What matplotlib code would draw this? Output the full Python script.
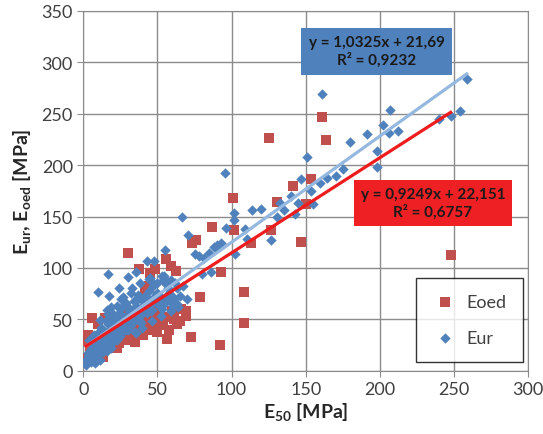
import matplotlib
matplotlib.use('Agg')
import matplotlib.pyplot as plt
import numpy as np

plt.rcParams['font.family'] = ['Lato', 'DejaVu Sans']
plt.rcParams['mathtext.fontset'] = 'custom'
plt.rcParams['mathtext.rm'] = 'Lato'
plt.rcParams['mathtext.it'] = 'Lato:italic'
plt.rcParams['mathtext.bf'] = 'Lato:bold'

# Eoed (red squares): E50, Eoed [MPa]
oed_x = [160.9, 125.3, 163.9, 141.2, 153.8, 101.2, 130.5, 150.3, 87.0, 101.5,
         126.5, 146.8, 113.2, 73.2, 76.2, 247.8, 29.9, 37.8, 55.6, 58.9,
         62.7, 48.6, 45.1, 93.1, 108.3, 78.6, 69.0, 69.0, 108.3, 53.8,
         53.3, 48.4, 44.0, 39.2, 56.3, 72.7, 92.4, 34.6, 24.1, 6.1,
         2.3, 13.6, 1.9, 14.7, 27.6, 22.9, 41.6, 44.0, 26.4, 18.2,
         9.0, 6.5, 33.0, 36.5, 50.5, 20.5, 12.0, 30.5, 42.5, 4.5,
         5.0, 8.0, 11.0, 15.0, 17.0, 20.0, 23.0, 26.0, 29.0, 32.0,
         35.0, 38.0, 40.0, 43.0, 47.0, 50.0, 52.0, 55.0, 60.0, 63.0,
         66.0, 3.0, 10.0, 28.0, 45.0,
         4.0, 7.0, 9.0, 13.0, 16.0, 19.0, 22.0, 25.0, 31.0, 36.0,
         41.0, 46.0, 49.0, 54.0, 58.0, 61.0, 65.0]
oed_y = [246.6, 226.4, 224.5, 179.9, 186.4, 168.5, 164.3, 162.0, 139.9, 136.6,
         137.0, 125.6, 124.6, 124.6, 127.2, 112.2, 114.8, 99.2, 109.0, 101.8,
         96.9, 99.2, 95.3, 96.0, 76.8, 71.9, 57.9, 53.0, 46.5, 49.8,
         44.9, 40.0, 41.6, 40.0, 30.9, 32.5, 24.7, 33.5, 27.0, 51.4,
         28.6, 13.0, 12.4, 51.4, 56.3, 33.5, 79.0, 82.0, 45.0, 37.0,
         24.0, 17.0, 38.0, 44.0, 58.0, 30.0, 22.0, 34.0, 50.0, 19.0,
         20.0, 28.0, 18.0, 35.0, 25.0, 42.0, 22.0, 55.0, 30.0, 48.0,
         28.0, 55.0, 35.0, 60.0, 45.0, 38.0, 62.0, 52.0, 58.0, 45.0,
         60.0, 35.0, 45.0, 40.0, 52.0,
         10.0, 22.0, 30.0, 20.0, 28.0, 34.0, 26.0, 40.0, 32.0, 36.0,
         46.0, 40.0, 54.0, 46.0, 40.0, 50.0, 48.0]

# Eur (blue diamonds): E50, Eur [MPa]
ur_x = [258.6, 160.9, 206.9, 254.4, 247.8, 239.9, 202.5, 212.3, 206.4, 191.2,
        180.0, 198.3, 150.8, 197.8, 174.9, 170.2, 164.4, 159.7, 146.8, 95.4,
        139.8, 153.8, 155.0, 144.5, 132.8, 135.1, 142.9, 113.6, 119.9, 101.9,
        101.9, 66.6, 96.6, 109.4, 130.5, 126.5, 110.7, 93.1, 89.6, 84.9,
        102.4, 70.8, 75.5, 81.4, 80.2, 86.0, 55.2, 42.8, 47.7, 16.4,
        9.6, 17.1, 24.1, 29.9, 35.8, 44.0, 32.3, 67.3, 69.7, 54.5,
        58.0, 60.3, 53.3, 46.3, 40.4, 35.8, 31.1, 25.3, 20.6, 13.6,
        9.0, 4.2, 7.7, 11.2, 15.9, 18.2, 22.9, 27.6, 34.6, 39.3,
        46.3, 51.0, 56.8, 61.5, 65.0, 13.6, 11.2, 10.0, 6.5, 19.4,
        22.9, 25.3, 28.8, 37.0, 41.6, 49.8, 15.9, 18.2, 24.1, 29.9,
        35.8, 39.8, 46.3, 52.1, 59.1, 3.0, 5.4, 9.0, 12.4, 1.9,
        90.5, 88.0, 78.0, 57.0, 63.0, 48.0, 33.5, 27.0, 8.0, 14.5,
        3.0, 5.0, 6.0, 8.0, 10.0, 12.0, 14.0, 16.0, 18.0, 20.0,
        21.0, 23.0, 24.0, 26.0, 28.0, 30.0, 31.0, 33.0, 36.0, 38.0,
        40.0, 42.0, 44.0, 45.0, 48.0, 50.0, 52.0, 54.0, 57.0, 60.0,
        62.0, 64.0, 15.0, 17.0, 19.0, 27.0, 33.0, 38.0, 7.0, 4.0,
        2.0, 4.0, 5.0, 7.0, 9.0, 11.0, 13.0, 14.0, 16.0, 18.0,
        19.0, 21.0, 22.0, 25.0, 27.0, 29.0, 32.0, 34.0, 35.0, 37.0,
        39.0, 41.0, 43.0, 46.0, 47.0, 49.0, 51.0, 53.0, 55.0, 58.0,
        6.0, 10.0, 12.0, 17.0, 20.0, 24.0, 26.0, 30.0, 34.0, 37.0,
        42.0, 45.0, 50.0, 53.0, 56.0, 59.0, 61.0, 63.0]
ur_y = [284.0, 269.4, 254.1, 253.1, 247.6, 245.0, 239.1, 233.6, 231.3, 230.3,
        222.2, 214.1, 207.5, 197.8, 196.2, 189.7, 187.4, 182.2, 186.4, 192.3,
        170.1, 175.0, 162.0, 163.6, 163.0, 156.5, 152.2, 156.5, 157.8, 153.9,
        146.4, 150.0, 139.2, 138.3, 150.0, 127.2, 128.5, 123.9, 119.7, 114.8,
        113.2, 131.8, 113.2, 110.0, 93.7, 96.0, 117.1, 106.7, 106.7, 94.3,
        76.8, 72.5, 80.7, 91.1, 96.0, 88.8, 75.8, 82.3, 69.3, 92.0,
        76.0, 62.8, 62.8, 69.0, 62.8, 56.3, 49.8, 40.0, 33.5, 23.7,
        17.0, 10.7, 7.5, 10.7, 18.9, 27.0, 36.8, 43.3, 49.8, 54.7,
        59.5, 64.4, 67.7, 71.0, 72.5, 40.0, 49.8, 36.8, 27.0, 56.3,
        62.8, 69.3, 66.0, 69.3, 72.5, 75.8, 59.5, 46.5, 49.8, 40.0,
        36.8, 41.6, 48.2, 53.0, 57.9, 17.0, 20.5, 33.5, 28.6, 5.9,
        122.0, 120.0, 112.0, 86.0, 65.0, 84.0, 60.0, 52.0, 12.0, 31.0,
        14.0, 12.0, 22.0, 15.0, 25.0, 20.0, 30.0, 26.0, 35.0, 28.0,
        42.0, 30.0, 45.0, 38.0, 52.0, 45.0, 58.0, 50.0, 62.0, 48.0,
        68.0, 58.0, 78.0, 65.0, 72.0, 85.0, 70.0, 88.0, 80.0, 66.0,
        85.0, 62.0, 48.0, 55.0, 62.0, 72.0, 80.0, 85.0, 35.0, 30.0,
        10.0, 18.0, 8.0, 20.0, 14.0, 28.0, 18.0, 36.0, 24.0, 40.0,
        22.0, 32.0, 48.0, 34.0, 50.0, 40.0, 44.0, 58.0, 38.0, 52.0,
        46.0, 64.0, 56.0, 58.0, 82.0, 66.0, 74.0, 60.0, 70.0, 74.0,
        28.0, 34.0, 42.0, 45.0, 52.0, 56.0, 62.0, 62.0, 68.0, 74.0,
        72.0, 90.0, 75.0, 92.0, 84.0, 88.0, 70.0, 80.0]

# trend lines (Excel)
ur_slope, ur_icpt = 1.0325, 21.69
oed_slope, oed_icpt = 0.9249, 22.151

fig = plt.figure(figsize=(5.43, 4.35), dpi=100)
ax = fig.add_axes([0.1534, 0.1455, 0.819, 0.827])

ax.scatter(oed_x, oed_y, marker='s', s=42, color='#C0504D', linewidths=0, label='Eoed', zorder=3)
ax.scatter(ur_x, ur_y, marker='D', s=28, color='#4F81BD', linewidths=0, label='Eur', zorder=4)

xl = np.array([min(ur_x), max(ur_x)])
ax.plot(xl, ur_slope * xl + ur_icpt, color='#95B8E0', lw=2.3, zorder=5)
xl = np.array([min(oed_x), max(oed_x)])
ax.plot(xl, oed_slope * xl + oed_icpt, color='#EE1C1C', lw=2.3, zorder=6)

ax.text(198.0, 311.0, 'y = 1,0325x + 21,69\nR² = 0,9232', ha='center', va='center',
        fontsize=11, fontweight='bold', linespacing=1.2, color='#1A1A1A',
        bbox=dict(boxstyle='square,pad=0.5', fc='#4F81BD', ec='none'), zorder=7)
ax.text(235.8, 163.0, 'y = 0,9249x + 22,151\nR² = 0,6757', ha='center', va='center',
        fontsize=11, fontweight='bold', linespacing=1.2, color='#1A1A1A',
        bbox=dict(boxstyle='square,pad=0.45', fc='#EE2024', ec='none'), zorder=7)

ax.set_xlim(0, 300)
ax.set_ylim(0, 350)
ax.set_xticks(range(0, 301, 50))
ax.set_yticks(range(0, 351, 50))
ax.grid(True, color='#8C8C8C', lw=1)
ax.set_axisbelow(True)
for sp in ax.spines.values():
    sp.set_color('#8C8C8C')
ax.tick_params(colors='#8C8C8C', labelcolor='#404040', labelsize=13, length=4)

ax.set_xlabel(r'$\mathbf{E_{50}}$ [MPa]', fontsize=14, fontweight='bold', color='#262626', labelpad=2)
ax.set_ylabel(r'$\mathbf{E_{ur}}$, $\mathbf{E_{oed}}$ [MPa]', fontsize=14, fontweight='bold',
              color='#262626', labelpad=6)

leg = ax.legend(loc='lower right', bbox_to_anchor=(0.988, 0.024), frameon=True, fancybox=False,
                fontsize=13, labelspacing=1.1, borderpad=0.9, handletextpad=0.5,
                handlelength=1.4, borderaxespad=0, markerscale=1.0)
leg.get_frame().set_edgecolor('black')
leg.get_frame().set_linewidth(1.0)
for t in leg.get_texts():
    t.set_color('#404040')

fig.savefig('out.png', dpi=100)
plt.close('all')
